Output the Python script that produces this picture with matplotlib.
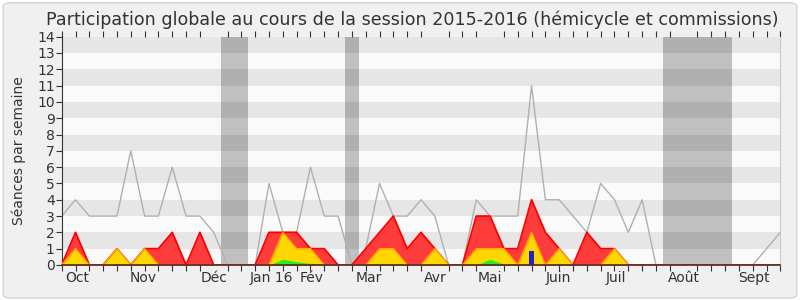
import matplotlib
matplotlib.use("Agg")
import matplotlib.pyplot as plt
from matplotlib.patches import FancyBboxPatch
import numpy as np

plt.rcParams['font.family'] = ['DejaVu Sans']

weeks = list(range(53))
total = [3, 4, 3, 3, 3, 7, 3, 3, 6, 3, 3, 2, 0, 0, 0, 5, 2, 2, 6, 3,
         3, 0, 1, 5, 3, 3, 4, 3, 0, 0, 4, 3, 3, 3, 11, 4, 4, 3, 2, 5,
         4, 2, 4, 0, 0, 0, 0, 0, 0, 0, 0, 1, 2]
presence = [0, 2, 0, 0, 1, 0, 1, 1, 2, 0, 2, 0, 0, 0, 0, 2, 2, 2, 1, 1,
            0, 0, 1, 2, 3, 1, 2, 1, 0, 0, 3, 3, 1, 1, 4, 2, 1, 0, 2, 1,
            1, 0, 0, 0, 0, 0, 0, 0, 0, 0, 0, 0, 0]
interventions = [0, 1, 0, 0, 1, 0, 1, 0, 0, 0, 0, 0, 0, 0, 0, 0, 2, 1, 1, 0,
                 0, 0, 0, 1, 1, 0, 0, 1, 0, 0, 1, 1, 1, 0, 2, 0, 1, 0, 0, 0,
                 1, 0, 0, 0, 0, 0, 0, 0, 0, 0, 0, 0, 0]
commission = [0, 0, 0, 0, 0.05, 0, 0, 0, 0, 0, 0, 0, 0, 0, 0, 0, 0.35, 0.2, 0.1, 0,
              0, 0, 0, 0.05, 0.05, 0, 0, 0, 0, 0, 0, 0.35, 0.05, 0, 0.05, 0, 0.05, 0, 0, 0,
              0, 0, 0, 0, 0, 0, 0, 0, 0, 0, 0, 0, 0]
questions_week = [34]
questions_val = [0.85]
vacations = [(11.5, 13.5), (20.5, 21.5), (43.5, 48.5)]
month_labels = ["Oct", "Nov", "Déc", "Jan 16", "Fév", "Mar", "Avr", "Mai",
                "Juin", "Juil", "Août", "Sept"]
month_pos = [1.1, 5.9, 11.0, 15.15, 18.1, 22.2, 27.0, 31.0, 35.95, 40.1, 45.0, 50.1]

fig = plt.figure(figsize=(8, 3), dpi=100)
fig.patch.set_facecolor('white')
bg = FancyBboxPatch((0.004, 0.006), 0.992, 0.985, boxstyle="round,pad=0,rounding_size=0.012",
                    transform=fig.transFigure, facecolor='#f0f0f0', edgecolor='#d4d4d4',
                    linewidth=1, zorder=-10)
fig.patches.append(bg)

ax = fig.add_axes([0.0771, 0.1167, 0.8983, 0.761])
ax.set_facecolor('#fafafa')
ax.set_xlim(0, 52)
ax.set_ylim(0, 14)

for y0 in range(1, 14, 2):
    ax.axhspan(y0, y0 + 1, color='#e6e6e6', lw=0, zorder=0)
for a, b in vacations:
    ax.axvspan(a, b, color='black', alpha=0.23, lw=0, zorder=1)

ax.plot(weeks, total, color='#b0b0b0', lw=1, zorder=2)
ax.fill_between(weeks, presence, color='#ff3c3c', lw=0, zorder=3)
ax.plot(weeks, presence, color='#ff0000', lw=1.3, zorder=3.1)
ax.fill_between(weeks, interventions, color='#ffd700', lw=0, zorder=4)
ax.plot(weeks, interventions, color='#ffaa00', lw=1, zorder=4.1)
ax.fill_between(weeks, commission, color='#22ee22', lw=0, zorder=5)
ax.bar(questions_week, questions_val, width=0.3, color='#2222cc', zorder=6)

ax.set_yticks(range(0, 15))
ax.set_xticks(month_pos)
ax.set_xticklabels(month_labels)
ax.set_xticks(weeks, minor=True)
ax.tick_params(axis='x', which='major', length=0, labelsize=10, labelcolor='#333333', pad=4)
ax.tick_params(axis='x', which='minor', length=4, direction='out', color='#333333', width=0.8,
               top=True)
ax.tick_params(axis='y', length=4, direction='out', labelsize=10, labelcolor='#333333',
               color='#333333', pad=1)
ax.set_ylabel("Séances par semaine", fontsize=10, color='#333333', labelpad=8)

ax.spines['top'].set_visible(False)
ax.spines['right'].set_color('#c8c8c8')
ax.spines['left'].set_color('#333333')
ax.spines['bottom'].set_color('#552222')
ax.spines['bottom'].set_linewidth(1.2)
ax.spines['bottom'].set_zorder(7)

fig.text(0.515, 0.935, "Participation globale au cours de la session 2015-2016 (hémicycle et commissions)",
         ha='center', va='center', fontsize=12.6, color='#333333')

fig.savefig("out.png", dpi=100, facecolor=fig.get_facecolor())
